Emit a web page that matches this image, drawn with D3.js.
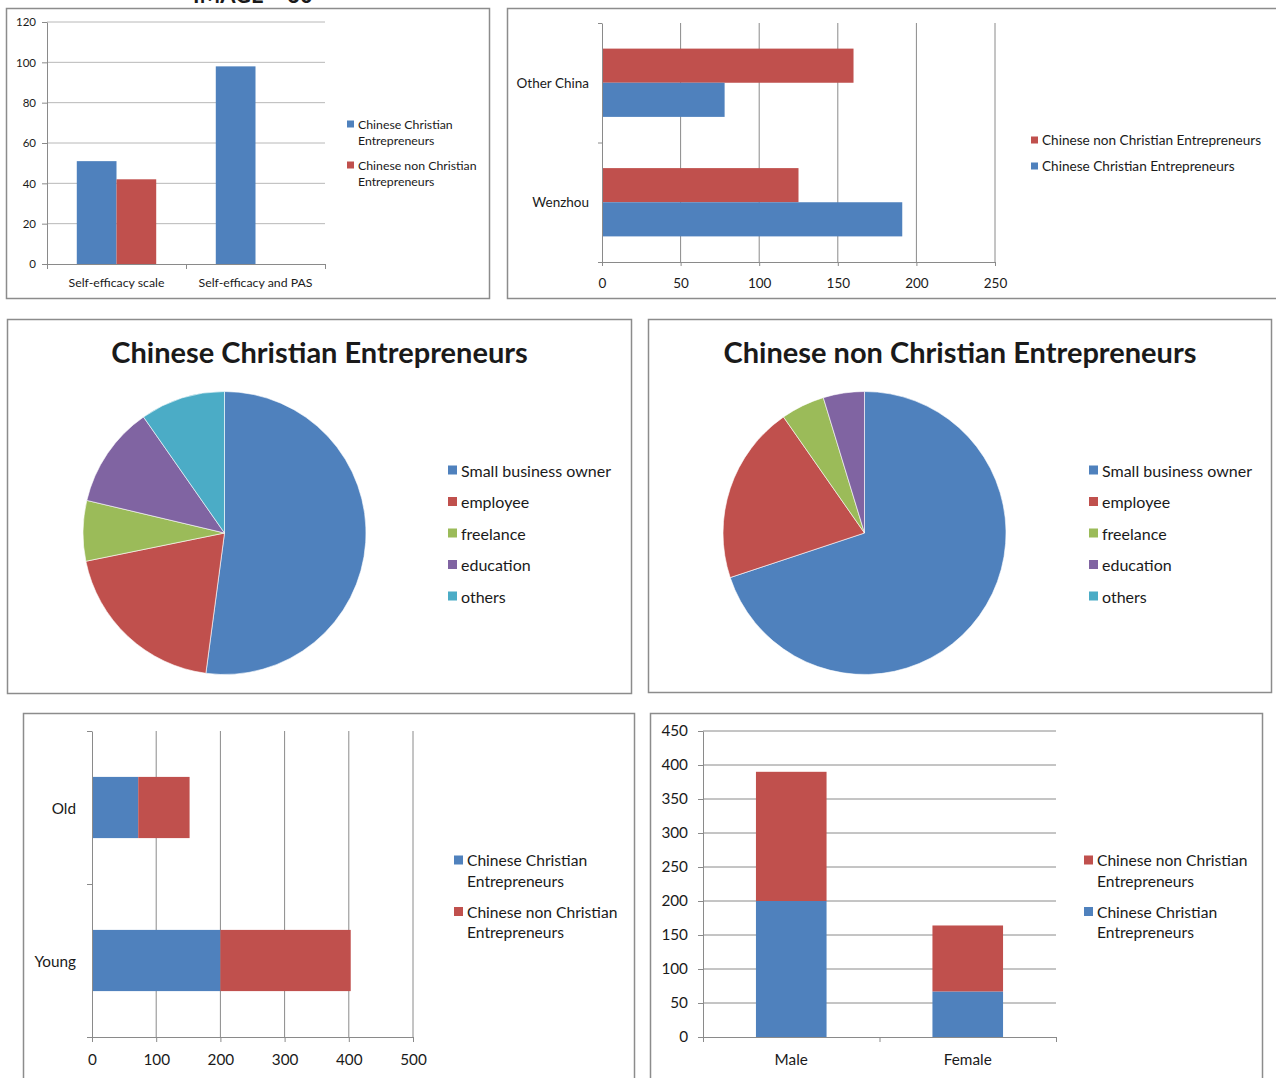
<!DOCTYPE html>
<html>
<head>
<meta charset="utf-8">
<script src="https://cdn.jsdelivr.net/npm/d3@7"></script>
<style>
  html, body { margin: 0; padding: 0; background: #fff; }
  svg { display: block; }
  text { font-family: Lato, "Open Sans", sans-serif; fill: #1a1a1a; }
</style>
</head>
<body>
<svg id="chart" width="1276" height="1078"></svg>
<script>
// ---------------- DATA ----------------
const seriesNames = ["Chinese Christian Entrepreneurs", "Chinese non Christian Entrepreneurs"];
const seriesColors = ["#4F81BD", "#C0504D"];

// Chart 1: self-efficacy
const efficacyCategories = ["Self-efficacy scale", "Self-efficacy and PAS"];
const efficacyChristian = [51, 98];
const efficacyNonChristian = [42, 0];
const efficacyTicks = [0, 20, 40, 60, 80, 100, 120];

// Chart 2: region
const regionCategories = ["Other China", "Wenzhou"];
const regionNonChristian = [160, 125];
const regionChristian = [78, 191];
const regionTicks = [0, 50, 100, 150, 200, 250];

// Charts 3 & 4: occupation pies
const occupationLabels = ["Small business owner", "employee", "freelance", "education", "others"];
const occupationColors = ["#4F81BD", "#C0504D", "#9BBB59", "#8064A2", "#4BACC6"];
const occupationChristian = [52.1, 19.7, 6.9, 11.6, 9.7];
const occupationNonChristian = [69.9, 20.4, 5.0, 4.7, 0];
const pieTitles = ["Chinese Christian Entrepreneurs", "Chinese non Christian Entrepreneurs"];

// Chart 5: age (stacked horizontal)
const ageCategories = ["Old", "Young"];
const ageChristian = [72, 200];
const ageNonChristian = [80, 203];
const ageTicks = [0, 100, 200, 300, 400, 500];

// Chart 6: gender (stacked vertical)
const genderCategories = ["Male", "Female"];
const genderChristian = [200, 67];
const genderNonChristian = [190, 97];
const genderTicks = [0, 50, 100, 150, 200, 250, 300, 350, 400, 450];

// ---------------- DRAW ----------------
const svg = d3.select("#chart");
const GRID = "#8a8a8a";
const AXIS = "#8a8a8a";
const BORDER = "#8c8c8c";

function box(x, y, w, h) {
  svg.append("rect").attr("x", x).attr("y", y).attr("width", w).attr("height", h)
    .attr("fill", "#fff").attr("stroke", BORDER).attr("stroke-width", 1.5);
}
function styleAxis(g, fontSize) {
  g.select(".domain").attr("stroke", AXIS);
  g.selectAll(".tick line").attr("stroke", AXIS);
  g.selectAll(".tick text").attr("fill", "#1a1a1a").attr("font-size", fontSize)
    .attr("font-family", "Lato, 'Open Sans', sans-serif");
}
function legend(x, y, items, colors, fontSize, sq, lineGap, wrapGap) {
  const g = svg.append("g");
  let cy = y;
  items.forEach((lines, i) => {
    g.append("rect").attr("x", x).attr("y", cy - sq / 2).attr("width", sq).attr("height", sq)
      .attr("fill", colors[i]);
    lines.forEach((ln, j) => {
      g.append("text").attr("x", x + sq + 4).attr("y", cy + j * lineGap)
        .attr("dominant-baseline", "central").attr("font-size", fontSize).text(ln);
    });
    cy += (lines.length - 1) * lineGap + wrapGap;
  });
}

// Top clipped heading (cut off at the top edge, as in the source)
svg.append("text").attr("x", 193).attr("y", 3).attr("font-family", "'Liberation Serif', serif")
  .attr("font-weight", "bold").attr("font-size", 22).text("IMAGE – 30");

// ===== Chart 1 =====
box(6.5, 8.5, 483, 290);
{
  const x0 = d3.scaleBand().domain(efficacyCategories).range([47, 325]).paddingInner(0.4286).paddingOuter(0.2143);
  const x1 = d3.scaleBand().domain([0, 1]).range([0, x0.bandwidth()]);
  const y = d3.scaleLinear().domain([0, 120]).range([264, 22]);
  const g = svg.append("g");
  g.selectAll("line.grid").data(efficacyTicks.slice(1)).join("line")
    .attr("x1", 47).attr("x2", 325).attr("y1", d => y(d)).attr("y2", d => y(d))
    .attr("stroke", "#b8b8b8");
  const data = [efficacyChristian, efficacyNonChristian];
  data.forEach((vals, s) => {
    g.selectAll(null).data(vals).join("rect")
      .attr("x", (d, i) => x0(efficacyCategories[i]) + x1(s))
      .attr("width", x1.bandwidth())
      .attr("y", d => y(d)).attr("height", d => y(0) - y(d))
      .attr("fill", seriesColors[s]);
  });
  const ya = g.append("g").attr("transform", "translate(47,0)")
    .call(d3.axisLeft(y).tickValues(efficacyTicks).tickSize(5).tickPadding(6).tickSizeOuter(0));
  styleAxis(ya, 11.5);
  const xb = d3.scaleLinear().domain([0, 2]).range([47, 325]);
  const xa = g.append("g").attr("transform", "translate(0,264)")
    .call(d3.axisBottom(xb).tickValues([0, 1, 2]).tickSize(5).tickFormat("").tickSizeOuter(0));
  styleAxis(xa, 11);
  efficacyCategories.forEach(c => {
    g.append("text").attr("x", x0(c) + x0.bandwidth() / 2).attr("y", 282)
      .attr("text-anchor", "middle").attr("dominant-baseline", "central").attr("font-size", 12.3).text(c);
  });
  legend(347, 124, [["Chinese Christian", "Entrepreneurs"], ["Chinese non Christian", "Entrepreneurs"]],
    seriesColors, 12.3, 7, 16, 25);
}

// ===== Chart 2 =====
box(507.5, 8.5, 780, 290);
{
  const x = d3.scaleLinear().domain([0, 250]).range([602, 995]);
  const y0 = d3.scaleBand().domain(regionCategories).range([23, 262]).paddingInner(0.4286).paddingOuter(0.2143);
  const y1 = d3.scaleBand().domain([0, 1]).range([0, y0.bandwidth()]);
  const g = svg.append("g");
  g.selectAll(null).data(regionTicks.slice(1)).join("line")
    .attr("x1", d => x(d)).attr("x2", d => x(d)).attr("y1", 23).attr("y2", 262).attr("stroke", GRID);
  const order = [regionNonChristian, regionChristian];
  const cols = [seriesColors[1], seriesColors[0]];
  order.forEach((vals, s) => {
    g.selectAll(null).data(vals).join("rect")
      .attr("y", (d, i) => y0(regionCategories[i]) + y1(s)).attr("height", y1.bandwidth())
      .attr("x", x(0)).attr("width", d => x(d) - x(0)).attr("fill", cols[s]);
  });
  const yb = d3.scaleLinear().domain([0, 2]).range([23, 262]);
  const ya = g.append("g").attr("transform", "translate(602,0)")
    .call(d3.axisLeft(yb).tickValues([0, 1, 2]).tickSize(4).tickFormat("").tickSizeOuter(0));
  styleAxis(ya, 13);
  const xa = g.append("g").attr("transform", "translate(0,262)")
    .call(d3.axisBottom(x).tickValues(regionTicks).tickSize(4).tickPadding(12).tickSizeOuter(0));
  styleAxis(xa, 13.5);
  regionCategories.forEach(c => {
    g.append("text").attr("x", 589).attr("y", y0(c) + y0.bandwidth() / 2)
      .attr("text-anchor", "end").attr("dominant-baseline", "central").attr("font-size", 13.5).text(c);
  });
  legend(1031, 140, [["Chinese non Christian Entrepreneurs"], ["Chinese Christian Entrepreneurs"]],
    [seriesColors[1], seriesColors[0]], 13.6, 7, 16, 26);
}

// ===== Charts 3 & 4 (pies) =====
function pieChart(bx, by, bw, bh, cx, cy, title, values, legendX) {
  box(bx, by, bw, bh);
  svg.append("text").attr("x", bx + bw / 2).attr("y", by + 32).attr("text-anchor", "middle")
    .attr("dominant-baseline", "central").attr("font-size", 29).attr("font-weight", "bold").text(title);
  const pie = d3.pie().sort(null)(values);
  const arc = d3.arc().innerRadius(0).outerRadius(141.5);
  svg.append("g").attr("transform", `translate(${cx},${cy})`)
    .selectAll("path").data(pie).join("path")
    .attr("d", arc).attr("fill", (d, i) => occupationColors[i])
    .attr("stroke", "#fff").attr("stroke-width", d => d.value > 0 ? 0.6 : 0);
  legend(legendX, 470, occupationLabels.map(l => [l]), occupationColors, 16, 9, 0, 31.5);
}
pieChart(7.5, 319.5, 624, 374, 224.5, 533, pieTitles[0], occupationChristian, 448);
pieChart(648.5, 319.5, 623, 373, 864.5, 533, pieTitles[1], occupationNonChristian, 1089);

// ===== Chart 5 (age, stacked horizontal) =====
box(23.5, 713.5, 611, 380);
{
  const x = d3.scaleLinear().domain([0, 500]).range([92, 413]);
  const y = d3.scaleBand().domain(ageCategories).range([731, 1037]).paddingInner(0.6).paddingOuter(0.3);
  const g = svg.append("g");
  g.selectAll(null).data(ageTicks.slice(1)).join("line")
    .attr("x1", d => x(d)).attr("x2", d => x(d)).attr("y1", 731).attr("y2", 1037).attr("stroke", GRID);
  const stack = d3.stack().keys([0, 1])(ageCategories.map((c, i) => ({ cat: c, 0: ageChristian[i], 1: ageNonChristian[i] })));
  stack.forEach((layer, s) => {
    g.selectAll(null).data(layer).join("rect")
      .attr("y", d => y(d.data.cat)).attr("height", y.bandwidth())
      .attr("x", d => x(d[0])).attr("width", d => x(d[1]) - x(d[0])).attr("fill", seriesColors[s]);
  });
  const yb = d3.scaleLinear().domain([0, 2]).range([731, 1037]);
  const ya = g.append("g").attr("transform", "translate(92,0)")
    .call(d3.axisLeft(yb).tickValues([0, 1, 2]).tickSize(5).tickFormat("").tickSizeOuter(0));
  styleAxis(ya, 15);
  const xa = g.append("g").attr("transform", "translate(0,1037)")
    .call(d3.axisBottom(x).tickValues(ageTicks).tickSize(5).tickPadding(12).tickSizeOuter(0));
  styleAxis(xa, 15.3);
  ageCategories.forEach(c => {
    g.append("text").attr("x", 76).attr("y", y(c) + y.bandwidth() / 2)
      .attr("text-anchor", "end").attr("dominant-baseline", "central").attr("font-size", 15.3).text(c);
  });
  legend(454, 860, [["Chinese Christian", "Entrepreneurs"], ["Chinese non Christian", "Entrepreneurs"]],
    seriesColors, 15.6, 9, 20.5, 31);
}

// ===== Chart 6 (gender, stacked vertical) =====
box(650.5, 713.5, 612, 380);
{
  const y = d3.scaleLinear().domain([0, 450]).range([1037, 731]);
  const x = d3.scaleBand().domain(genderCategories).range([703, 1056]).paddingInner(0.6).paddingOuter(0.3);
  const g = svg.append("g");
  g.selectAll(null).data(genderTicks.slice(1)).join("line")
    .attr("x1", 703).attr("x2", 1056).attr("y1", d => y(d)).attr("y2", d => y(d)).attr("stroke", GRID);
  const stack = d3.stack().keys([0, 1])(genderCategories.map((c, i) => ({ cat: c, 0: genderChristian[i], 1: genderNonChristian[i] })));
  stack.forEach((layer, s) => {
    g.selectAll(null).data(layer).join("rect")
      .attr("x", d => x(d.data.cat)).attr("width", x.bandwidth())
      .attr("y", d => y(d[1])).attr("height", d => y(d[0]) - y(d[1])).attr("fill", seriesColors[s]);
  });
  const ya = g.append("g").attr("transform", "translate(703,0)")
    .call(d3.axisLeft(y).tickValues(genderTicks).tickSize(5).tickPadding(10).tickSizeOuter(0));
  styleAxis(ya, 15.3);
  const xb = d3.scaleLinear().domain([0, 2]).range([703, 1056]);
  const xa = g.append("g").attr("transform", "translate(0,1037)")
    .call(d3.axisBottom(xb).tickValues([0, 1, 2]).tickSize(5).tickFormat("").tickSizeOuter(0));
  styleAxis(xa, 15);
  genderCategories.forEach(c => {
    g.append("text").attr("x", x(c) + x.bandwidth() / 2).attr("y", 1059)
      .attr("text-anchor", "middle").attr("dominant-baseline", "central").attr("font-size", 15.3).text(c);
  });
  legend(1084, 860, [["Chinese non Christian", "Entrepreneurs"], ["Chinese Christian", "Entrepreneurs"]],
    [seriesColors[1], seriesColors[0]], 15.6, 9, 20.5, 31);
}
</script>
</body>
</html>
